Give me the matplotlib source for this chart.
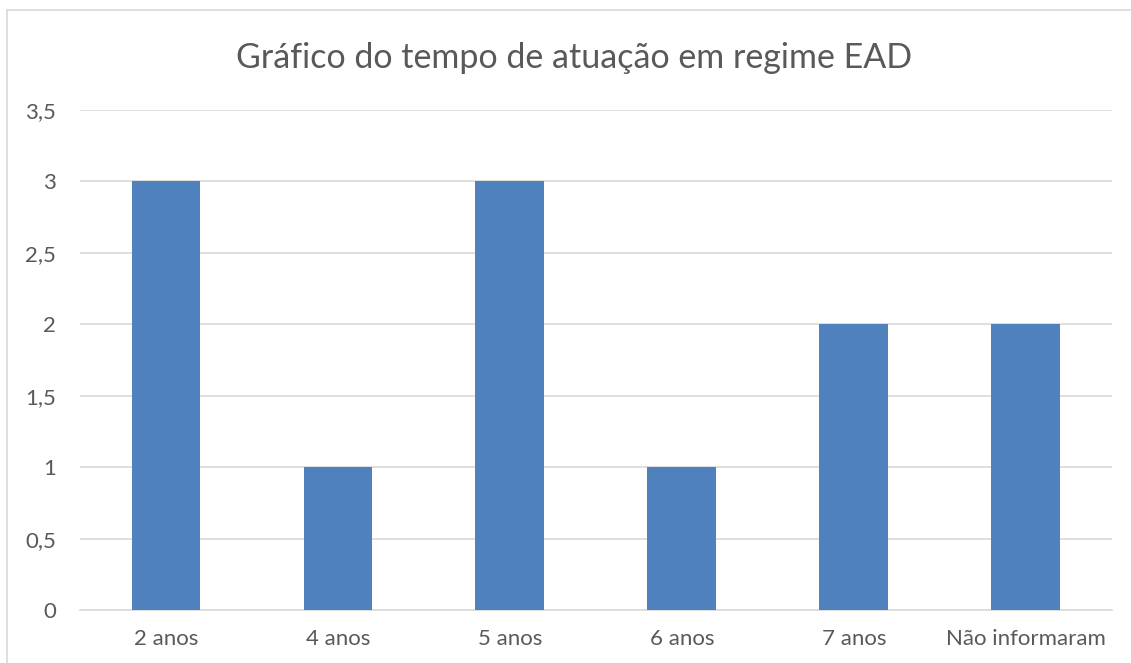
import matplotlib.pyplot as plt
from matplotlib.lines import Line2D

categories = ["2 anos", "4 anos", "5 anos", "6 anos", "7 anos", "Não informaram"]
values = [3, 1, 3, 1, 2, 2]
yticks = [0, 0.5, 1, 1.5, 2, 2.5, 3, 3.5]
ytick_labels = ["0", "0,5", "1", "1,5", "2", "2,5", "3", "3,5"]

plt.rcParams['font.family'] = ['Lato', 'DejaVu Sans']

fig = plt.figure(figsize=(11.31, 6.63), dpi=100)
ax = fig.add_axes([0.0707, 0.0799, 0.9123, 0.7541])

x = range(len(categories))
ax.bar(x, values, width=0.4, color="#4f81bd", zorder=3)

ax.set_xlim(-0.5, len(categories) - 0.5)
ax.set_ylim(0, 3.5)
ax.set_yticks(yticks)
ax.set_yticklabels(ytick_labels)
ax.set_xticks(list(x))
ax.set_xticklabels(categories)
ax.grid(axis="y", color="#d9d9d9", linewidth=1.2, zorder=0)
for s in ["top", "right", "left"]:
    ax.spines[s].set_visible(False)
ax.spines["bottom"].set_color("#d9d9d9")
ax.spines["bottom"].set_linewidth(1.2)
ax.tick_params(axis="both", length=0, labelsize=16, colors="#595959")
ax.tick_params(axis="y", pad=17)
ax.tick_params(axis="x", pad=14)

fig.text(0.508, 0.913, "Gráfico do tempo de atuação em regime EAD",
         ha="center", va="center", fontsize=24.5, color="#595959")

# chart border (left and top visible)
fig.add_artist(Line2D([7 / 1131, 7 / 1131], [0, 1 - 10 / 663],
                      transform=fig.transFigure, color="#d9d9d9", linewidth=1.2))
fig.add_artist(Line2D([7 / 1131, 1], [1 - 10 / 663, 1 - 10 / 663],
                      transform=fig.transFigure, color="#d9d9d9", linewidth=1.2))

fig.savefig("out.png", dpi=100)
